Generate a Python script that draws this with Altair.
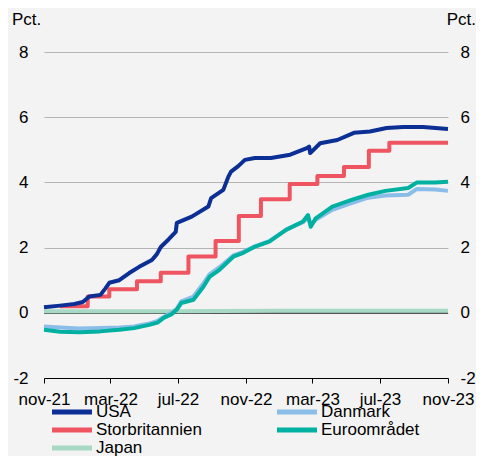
import altair as alt
import pandas as pd

# ---- data ----
usa_dates = ["2021-11-01", "2021-11-30", "2021-12-26", "2022-01-10", "2022-01-22", "2022-02-11",
             "2022-02-20", "2022-02-27", "2022-03-17", "2022-04-04", "2022-04-22", "2022-05-15",
             "2022-05-24", "2022-05-31", "2022-06-14", "2022-06-27", "2022-06-29", "2022-07-26",
             "2022-08-25", "2022-08-30", "2022-09-21", "2022-09-30", "2022-10-05", "2022-10-18",
             "2022-10-30", "2022-11-17", "2022-12-16", "2023-01-20", "2023-02-20", "2023-02-23",
             "2023-02-25", "2023-03-15", "2023-04-15", "2023-05-15", "2023-06-13", "2023-07-13",
             "2023-08-12", "2023-09-17", "2023-11-01"]
usa_vals = [0.17, 0.22, 0.27, 0.33, 0.50, 0.55,
            0.75, 0.92, 1.00, 1.22, 1.41, 1.62,
            1.80, 2.02, 2.25, 2.48, 2.76, 2.95,
            3.26, 3.52, 3.77, 4.17, 4.33, 4.50,
            4.69, 4.75, 4.75, 4.85, 5.06, 5.10,
            4.90, 5.20, 5.30, 5.52, 5.56, 5.67,
            5.70, 5.70, 5.64]

uk_dates = ["2021-11-30", "2022-01-19", "2022-02-27", "2022-04-18", "2022-05-31", "2022-07-20",
            "2022-09-07", "2022-10-19", "2022-11-28", "2023-01-19", "2023-03-10", "2023-04-27",
            "2023-06-11", "2023-07-18", "2023-11-01"]
uk_vals = [0.20, 0.50, 0.72, 0.97, 1.23, 1.73,
           2.20, 2.97, 3.48, 3.95, 4.20, 4.47,
           4.97, 5.22, 5.22]

ea_dates = ["2021-11-01", "2021-11-30", "2022-01-04", "2022-02-10", "2022-03-17", "2022-04-13",
            "2022-05-10", "2022-05-25", "2022-06-06", "2022-06-19", "2022-06-29", "2022-07-07",
            "2022-07-29", "2022-08-16", "2022-08-27", "2022-09-14", "2022-10-09", "2022-10-27",
            "2022-11-16", "2022-12-13", "2023-01-13", "2023-02-12", "2023-02-21", "2023-02-26",
            "2023-03-07", "2023-04-06", "2023-05-12", "2023-06-10", "2023-07-11", "2023-08-21",
            "2023-09-06", "2023-10-09", "2023-11-01"]
ea_vals = [-0.52, -0.58, -0.60, -0.57, -0.52, -0.47,
           -0.37, -0.30, -0.15, -0.05, 0.10, 0.30,
           0.40, 0.80, 1.10, 1.32, 1.72, 1.84,
           2.02, 2.18, 2.55, 2.80, 3.00, 2.64,
           2.90, 3.26, 3.47, 3.62, 3.74, 3.83,
           4.00, 4.00, 4.02]

dk_dates = ea_dates
dk_vals = [-0.42, -0.45, -0.48, -0.47, -0.45, -0.42,
           -0.33, -0.25, -0.12, 0.00, 0.12, 0.35,
           0.50, 0.90, 1.18, 1.40, 1.76, 1.87,
           2.03, 2.20, 2.55, 2.78, 2.92, 2.70,
           2.85, 3.16, 3.37, 3.53, 3.60, 3.62,
           3.80, 3.78, 3.74]

jp_dates = ["2021-11-01", "2022-06-01", "2023-01-01", "2023-11-01"]
jp_vals = [0.05, 0.05, 0.06, 0.06]

series = ["USA", "Danmark", "Storbritannien", "Euroområdet", "Japan"]
colors = ["#0b2f94", "#8bbde9", "#ef5560", "#00b1a1", "#a7d9c4"]

tick_dates = [(2021, 11), (2022, 3), (2022, 7), (2022, 11), (2023, 3), (2023, 7), (2023, 11)]
y_ticks = [-2, 0, 2, 4, 6, 8]

rows = []
for name, ds, vs in [("USA", usa_dates, usa_vals), ("Danmark", dk_dates, dk_vals),
                     ("Storbritannien", uk_dates, uk_vals), ("Euroområdet", ea_dates, ea_vals),
                     ("Japan", jp_dates, jp_vals)]:
    for d, v in zip(ds, vs):
        rows.append({"serie": name, "dato": d, "pct": v})
df = pd.DataFrame(rows)

FONT = "Liberation Sans"
FS = 17

xscale = alt.Scale(type="utc", nice=False,
                   domain=[alt.DateTime(year=2021, month=11, date=1, utc=True),
                           alt.DateTime(year=2023, month=11, date=1, utc=True)])
xaxis = alt.Axis(values=[alt.DateTime(year=y, month=m, date=1, utc=True) for y, m in tick_dates],
                 labelExpr="lower(utcFormat(datum.value, '%b-%y'))",
                 title=None, grid=False, domainColor="#000000", tickColor="#000000",
                 tickSize=5, labelPadding=8, labelFontSize=FS, labelColor="#000000",
                 labelFont=FONT, labelAngle=0, labelFlush=False, labelOverlap=False)
yscale = alt.Scale(domain=[-2, 8], nice=False)
ylabel = "datum.value + ''"
left_axis = alt.Axis(values=y_ticks, grid=True, gridColor="#b4b4b4", gridWidth=1,
                     domain=False, ticks=False, labelPadding=16, labelFontSize=FS,
                     labelColor="#000000", labelFont=FONT, labelExpr=ylabel,
                     title="Pct.", titleAngle=0, titleAlign="left", titleBaseline="alphabetic",
                     titleX=-32.5, titleY=-27.5, titleFontWeight="normal", titleFontSize=FS,
                     titleFont=FONT, titleColor="#000000")
right_axis = alt.Axis(values=y_ticks, grid=False, orient="right",
                      domain=False, ticks=False, labelPadding=12, labelFontSize=FS,
                      labelColor="#000000", labelFont=FONT, labelExpr=ylabel,
                      title="Pct.", titleAngle=0, titleAlign="right", titleBaseline="alphabetic",
                      titleX=27.5, titleY=-27.5, titleFontWeight="normal", titleFontSize=FS,
                      titleFont=FONT, titleColor="#000000")

legend = alt.Legend(orient="none", legendX=8, legendY=351, columns=2, direction="horizontal",
                    title=None, clipHeight=18,
                    symbolType="M-1.4167,0H5.25", symbolSize=144, symbolStrokeWidth=5,
                    labelFontSize=FS, labelFont=FONT, labelColor="#000000",
                    labelOffset=27, columnPadding=75, rowPadding=0, labelLimit=300)
color = alt.Color("serie:N", scale=alt.Scale(domain=series, range=colors), legend=legend)

base = alt.Chart(df)

zero = base.mark_rule(color="#555555", strokeWidth=1.5).encode(
    y=alt.YDatum(0, scale=yscale, axis=left_axis))


def line(name, step=False):
    kw = dict(strokeWidth=4, strokeCap="butt", strokeJoin="round")
    if step:
        kw["interpolate"] = "step-after"
    return base.transform_filter(alt.datum.serie == name).mark_line(**kw).encode(
        x=alt.X("dato:T", scale=xscale, axis=xaxis),
        y=alt.Y("pct:Q", scale=yscale, axis=left_axis),
        color=color,
    )


main = alt.layer(
    zero,
    line("Japan"),
    line("Danmark"),
    line("Euroområdet"),
    line("Storbritannien", step=True),
    line("USA"),
)

right = base.mark_point(opacity=0).encode(
    x=alt.X("dato:T", scale=xscale, axis=xaxis),
    y=alt.Y("pct:Q", scale=yscale, axis=right_axis),
)

chart = alt.layer(main, right).resolve_scale(y="independent").properties(
    width=404, height=326,
    autosize=alt.AutoSizeParams(type="none"),
    padding={"left": 36, "top": 44, "right": 28, "bottom": 78},
).configure(font=FONT, background="#f3f3f3").configure_view(stroke=None)

chart.save("out.html", embed_options={"renderer": "svg", "actions": False})
